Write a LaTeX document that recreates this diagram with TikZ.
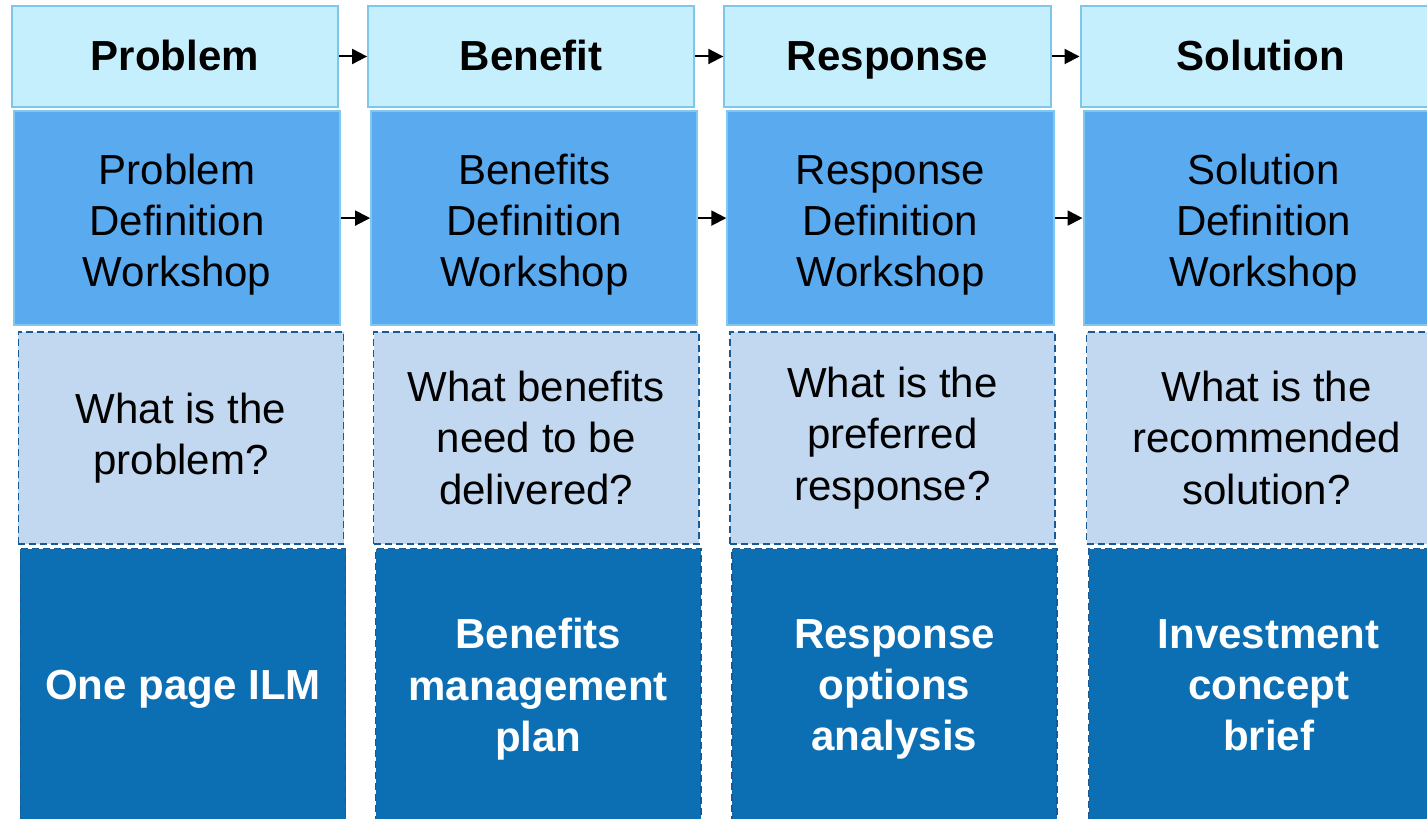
\documentclass[tikz,border=0pt]{standalone}
\usepackage{fontspec}
\setmainfont{Liberation Sans}
\usetikzlibrary{positioning,arrows.meta}
\definecolor{headfill}{HTML}{C6EFFD}
\definecolor{headline}{HTML}{7EC6EA}
\definecolor{workfill}{HTML}{5AAAF0}
\definecolor{workline}{HTML}{80C8EE}
\definecolor{askfill}{HTML}{C2D8F0}
\definecolor{docfill}{HTML}{0D6FB3}
\definecolor{dashline}{HTML}{175A94}
\begin{document}
\begin{tikzpicture}[
    x=0.01cm, y=-0.01cm,
    node distance=3.56cm,
    box/.style={rectangle, inner sep=0pt, minimum width=3.25cm, align=center,
                font=\fontsize{11.95}{14.6}\selectfont},
    head/.style={box, draw=headline, fill=headfill, line width=0.02cm,
                 minimum width=3.26cm, minimum height=1.01cm,
                 text height=0.31cm, text depth=0.02cm,
                 font=\fontsize{11.95}{14.6}\selectfont\bfseries},
    work/.style={box, draw=workline, fill=workfill, line width=0.02cm,
                 minimum width=3.26cm, minimum height=2.14cm, text height=1.46cm},
    ask/.style={box, draw=dashline, fill=askfill, line width=0.015cm,
                dash pattern=on 0.07cm off 0.04cm, minimum height=2.12cm},
    doc/.style={box, draw=dashline, fill=docfill, line width=0.015cm,
                dash pattern=on 0.07cm off 0.04cm, minimum height=2.82cm,
                text depth=0.09cm, text=white,
                font=\fontsize{11.95}{14.6}\selectfont\bfseries},
    wide/.style={minimum width=3.6cm},
    link/.style={-{Triangle[length=0.15cm, width=0.15cm]}, line width=0.02cm}
]
\useasboundingbox (0,0) rectangle (1427,819);
\clip (0,0) rectangle (1427,819);

\node (problem) [head] at (175,56.5) {Problem};
\node (benefit) [head, right of=problem] {Benefit};
\node (response) [head, right of=benefit] {Response};
\node (solution) [head, wide, right of=response, xshift=0.17cm] {Solution};

\node (probdef) [work, below=0.02cm of problem, xshift=0.02cm] {Problem\\Definition\\Workshop};
\node (benedef) [work, below=0.02cm of benefit, xshift=0.03cm] {Benefits\\Definition\\Workshop};
\node (respdef) [work, below=0.02cm of response, xshift=0.03cm] {Response\\Definition\\Workshop};
\node (solndef) [work, wide, below=0.02cm of solution, xshift=0.03cm] {Solution\\Definition\\Workshop};

\node (probask) [ask, below=0.05cm of probdef, xshift=0.04cm] {What is the\\problem?};
\node (beneask) [ask, below=0.05cm of benedef, xshift=0.02cm] {What benefits\\need to be\\delivered?};
\node (respask) [ask, below=0.05cm of respdef, xshift=0.02cm] {What is the\\preferred\\response?};
\node (solnask) [ask, wide, below=0.05cm of solndef, xshift=0.03cm] {What is the\\recommended\\solution?};

\node (probdoc) [doc, below=0.03cm of probask, xshift=0.02cm] {One page ILM};
\node (benedoc) [doc, below=0.03cm of beneask, xshift=0.02cm] {Benefits\\management\\plan};
\node (respdoc) [doc, below=0.03cm of respask, xshift=0.02cm] {Response\\options\\analysis};
\node (solndoc) [doc, wide, below=0.03cm of solnask, xshift=0.02cm] {Investment\\concept\\brief};

\draw [link] (problem) -- (benefit);
\draw [link] (benefit) -- (response);
\draw [link] (response) -- (solution);
\draw [link] (probdef) -- (benedef);
\draw [link] (benedef) -- (respdef);
\draw [link] (respdef) -- (solndef);
\end{tikzpicture}
\end{document}
